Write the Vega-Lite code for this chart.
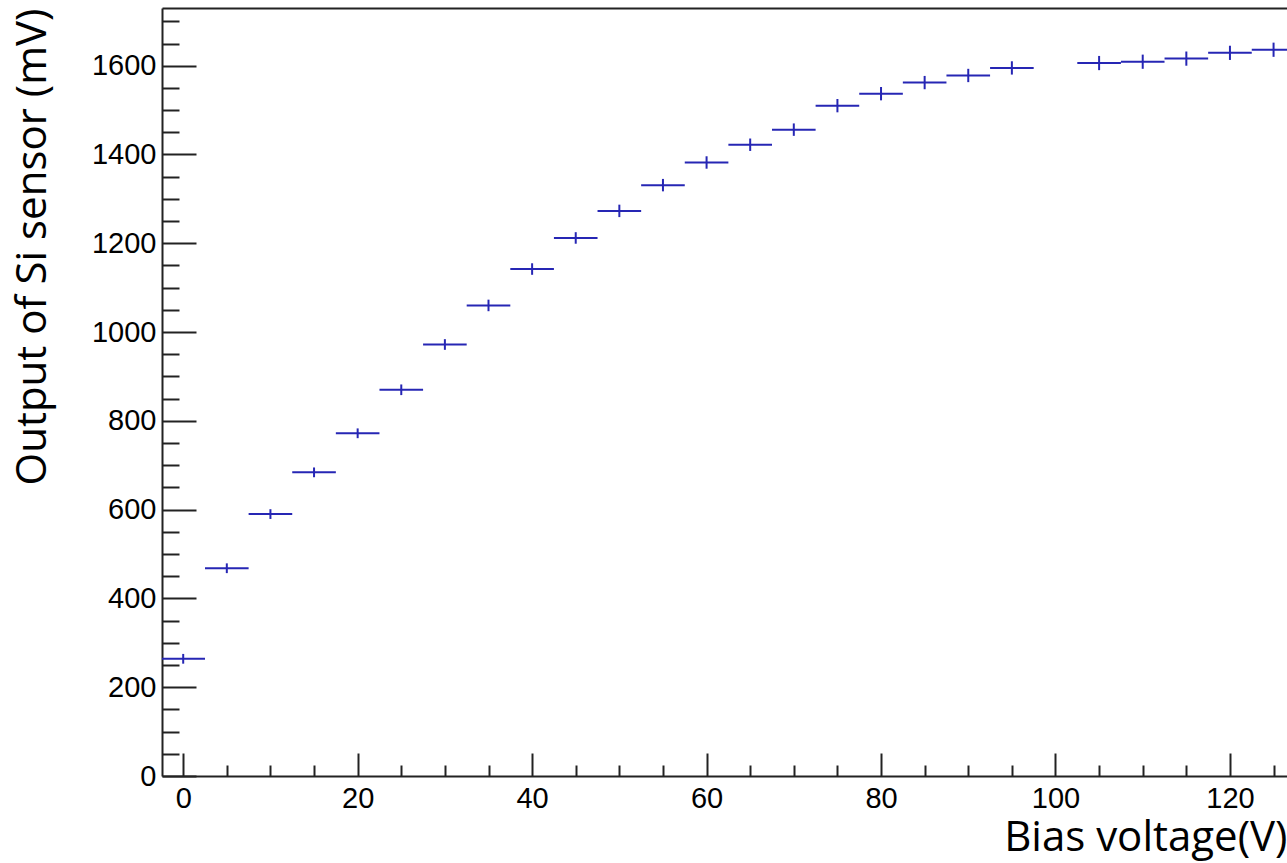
{
  "$schema": "https://vega.github.io/schema/vega-lite/v6.json",
  "width": 1125,
  "height": 768,
  "autosize": "none",
  "padding": {"left": 162, "top": 8, "right": 0, "bottom": 87},
  "background": "white",
  "config": {
    "view": {"stroke": null},
    "axis": {"grid": false, "labelFlush": false, "labelOverlap": false}
  },
  "data": {
    "values": [
      {"v": 0, "out": 264, "vlo": -2.5, "vhi": 2.5, "olo": 253, "ohi": 275},
      {"v": 5, "out": 468, "vlo": 2.5, "vhi": 7.5, "olo": 457, "ohi": 479},
      {"v": 10, "out": 590, "vlo": 7.5, "vhi": 12.5, "olo": 579, "ohi": 601},
      {"v": 15, "out": 684, "vlo": 12.5, "vhi": 17.5, "olo": 673, "ohi": 695},
      {"v": 20, "out": 772, "vlo": 17.5, "vhi": 22.5, "olo": 761, "ohi": 783},
      {"v": 25, "out": 870, "vlo": 22.5, "vhi": 27.5, "olo": 858, "ohi": 882},
      {"v": 30, "out": 972, "vlo": 27.5, "vhi": 32.5, "olo": 960, "ohi": 984},
      {"v": 35, "out": 1060, "vlo": 32.5, "vhi": 37.5, "olo": 1047, "ohi": 1073},
      {"v": 40, "out": 1142, "vlo": 37.5, "vhi": 42.5, "olo": 1129, "ohi": 1155},
      {"v": 45, "out": 1212, "vlo": 42.5, "vhi": 47.5, "olo": 1199, "ohi": 1225},
      {"v": 50, "out": 1273, "vlo": 47.5, "vhi": 52.5, "olo": 1259, "ohi": 1287},
      {"v": 55, "out": 1331, "vlo": 52.5, "vhi": 57.5, "olo": 1317, "ohi": 1345},
      {"v": 60, "out": 1382, "vlo": 57.5, "vhi": 62.5, "olo": 1368, "ohi": 1396},
      {"v": 65, "out": 1422, "vlo": 62.5, "vhi": 67.5, "olo": 1408, "ohi": 1436},
      {"v": 70, "out": 1456, "vlo": 67.5, "vhi": 72.5, "olo": 1442, "ohi": 1470},
      {"v": 75, "out": 1510, "vlo": 72.5, "vhi": 77.5, "olo": 1495, "ohi": 1525},
      {"v": 80, "out": 1537, "vlo": 77.5, "vhi": 82.5, "olo": 1522, "ohi": 1552},
      {"v": 85, "out": 1562, "vlo": 82.5, "vhi": 87.5, "olo": 1547, "ohi": 1577},
      {"v": 90, "out": 1578, "vlo": 87.5, "vhi": 92.5, "olo": 1563, "ohi": 1593},
      {"v": 95, "out": 1595, "vlo": 92.5, "vhi": 97.5, "olo": 1580, "ohi": 1610},
      {"v": 105, "out": 1606, "vlo": 102.5, "vhi": 107.5, "olo": 1590, "ohi": 1622},
      {"v": 110, "out": 1609, "vlo": 107.5, "vhi": 112.5, "olo": 1593, "ohi": 1625},
      {"v": 115, "out": 1616, "vlo": 112.5, "vhi": 117.5, "olo": 1600, "ohi": 1632},
      {"v": 120, "out": 1629, "vlo": 117.5, "vhi": 122.5, "olo": 1613, "ohi": 1645},
      {"v": 125, "out": 1636, "vlo": 122.5, "vhi": 127.5, "olo": 1620, "ohi": 1652}
    ]
  },
  "layer": [
    {
      "mark": {"type": "rule", "color": "#2626b4", "strokeWidth": 2, "clip": true},
      "encoding": {
        "x": {
          "field": "vlo", "type": "quantitative",
          "scale": {"domain": [-2.43, 126.54], "nice": false, "zero": false},
          "axis": {
            "orient": "bottom",
            "title": "Bias voltage(V)",
            "titleFont": "Open Sans", "titleFontSize": 42, "titleFontWeight": "normal", "titleColor": "black",
            "titleAnchor": "end", "titleAlign": "right", "titlePadding": -8,
            "values": [0,5,10,15,20,25,30,35,40,45,50,55,60,65,70,75,80,85,90,95,100,105,110,115,120,125],
            "labelExpr": "datum.value % 20 === 0 ? datum.label : ''",
            "labelFont": "Liberation Sans", "labelFontSize": 29, "labelColor": "black",
            "labelPadding": 31,
            "tickSize": {"condition": {"test": "datum.value % 20 === 0", "value": -23}, "value": -11},
            "tickColor": "#222", "tickWidth": 2,
            "domainColor": "#222", "domainWidth": 2
          }
        },
        "x2": {"field": "vhi"},
        "y": {
          "field": "out", "type": "quantitative",
          "scale": {"domain": [0, 1730], "nice": false, "zero": true},
          "axis": {
            "orient": "left",
            "title": "Output of Si sensor (mV)",
            "titleFont": "Open Sans", "titleFontSize": 42, "titleFontWeight": "normal", "titleColor": "black",
            "titleAnchor": "end", "titlePadding": 37,
            "values": [0,50,100,150,200,250,300,350,400,450,500,550,600,650,700,750,800,850,900,950,1000,1050,1100,1150,1200,1250,1300,1350,1400,1450,1500,1550,1600,1650,1700],
            "labelExpr": "datum.value % 200 === 0 ? datum.label : ''",
            "format": "d",
            "labelFont": "Liberation Sans", "labelFontSize": 29, "labelColor": "black",
            "labelPadding": 40,
            "tickSize": {"condition": {"test": "datum.value % 200 === 0", "value": -34}, "value": -17},
            "tickColor": "#222", "tickWidth": 2,
            "domainColor": "#222", "domainWidth": 2
          }
        }
      }
    },
    {
      "mark": {"type": "rule", "color": "#2626b4", "strokeWidth": 2, "clip": true},
      "encoding": {
        "x": {
          "field": "v", "type": "quantitative",
          "axis": {
            "orient": "top", "title": null, "labels": false, "ticks": false,
            "domainColor": "#222", "domainWidth": 2
          }
        },
        "y": {
          "field": "olo", "type": "quantitative",
          "axis": {
            "orient": "left",
            "title": "Output of Si sensor (mV)",
            "titleFont": "Open Sans", "titleFontSize": 42, "titleFontWeight": "normal", "titleColor": "black",
            "titleAnchor": "end", "titlePadding": 37,
            "values": [0,50,100,150,200,250,300,350,400,450,500,550,600,650,700,750,800,850,900,950,1000,1050,1100,1150,1200,1250,1300,1350,1400,1450,1500,1550,1600,1650,1700],
            "labelExpr": "datum.value % 200 === 0 ? datum.label : ''",
            "format": "d",
            "labelFont": "Liberation Sans", "labelFontSize": 29, "labelColor": "black",
            "labelPadding": 40,
            "tickSize": {"condition": {"test": "datum.value % 200 === 0", "value": -34}, "value": -17},
            "tickColor": "#222", "tickWidth": 2,
            "domainColor": "#222", "domainWidth": 2
          }
        },
        "y2": {"field": "ohi"}
      }
    }
  ],
  "resolve": {"axis": {"x": "independent"}}
}
